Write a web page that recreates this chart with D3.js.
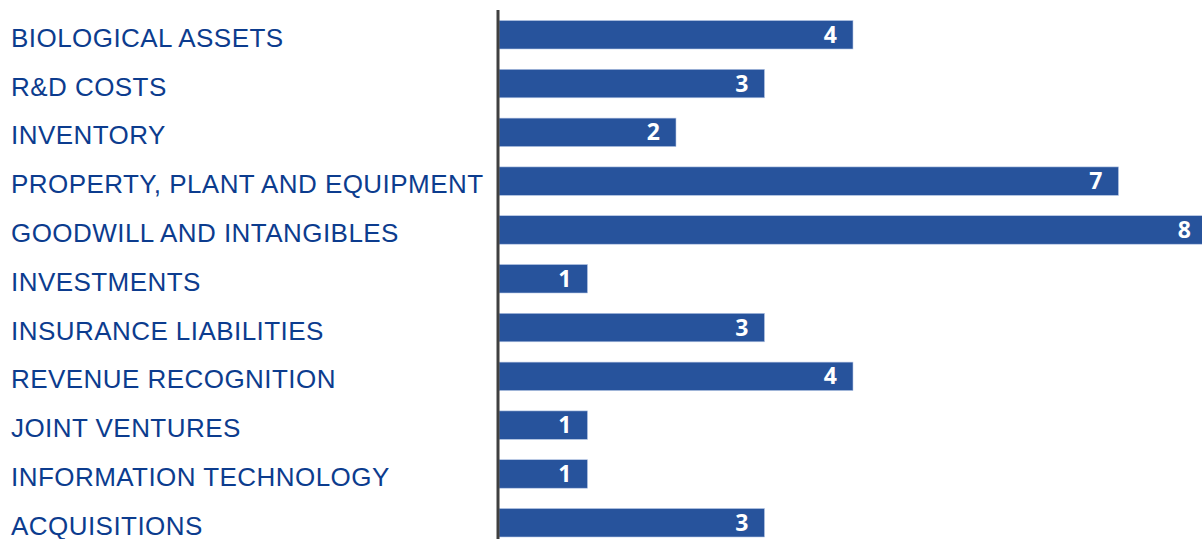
<!DOCTYPE html>
<html lang="en">
<head>
    <meta charset="UTF-8">
    <title>Bar chart</title>
    <script src="https://d3js.org/d3.v7.min.js"></script>
    <style>
        body { margin: 0; background: #fff; overflow: hidden; }
        .cat { font-family: "Liberation Sans", Arial, sans-serif; font-size: 26px; letter-spacing: 0.45px; fill: #0c3c8e; }
        .val { font-family: "Open Sans", "Liberation Sans", sans-serif; font-size: 23px; font-weight: bold; fill: #fff; }
    </style>
</head>
<body>
    <svg id="chart" width="1202" height="539"></svg>
    <script>
        const categories = [
            "BIOLOGICAL ASSETS",
            "R&D COSTS",
            "INVENTORY",
            "PROPERTY, PLANT AND EQUIPMENT",
            "GOODWILL AND INTANGIBLES",
            "INVESTMENTS",
            "INSURANCE LIABILITIES",
            "REVENUE RECOGNITION",
            "JOINT VENTURES",
            "INFORMATION TECHNOLOGY",
            "ACQUISITIONS"
        ];
        const values = [4, 3, 2, 7, 8, 1, 3, 4, 1, 1, 3];

        const svg = d3.select("#chart");
        const x0 = 499;

        const x = d3.scaleLinear().domain([0, 8]).range([x0, x0 + 8 * 88.5]);
        const y = d3.scaleBand()
            .domain(categories)
            .range([10.35, 10.35 + 11 * 48.8])
            .paddingInner(0.416)
            .paddingOuter(0.208);

        // bars
        svg.selectAll("rect.bar")
            .data(values)
            .enter().append("rect")
            .attr("class", "bar")
            .attr("x", x(0))
            .attr("y", (d, i) => y(categories[i]))
            .attr("width", d => x(d) - x(0))
            .attr("height", y.bandwidth())
            .attr("fill", "#27539c")
            .attr("stroke", "#b8c8e6")
            .attr("stroke-width", 0.6);

        // value labels
        svg.selectAll("text.val")
            .data(values)
            .enter().append("text")
            .attr("class", "val")
            .attr("x", d => x(d) - 16)
            .attr("y", (d, i) => y(categories[i]) + y.bandwidth() / 2 + 8)
            .attr("text-anchor", "end")
            .text(d => d);

        // category labels
        svg.selectAll("text.cat")
            .data(categories)
            .enter().append("text")
            .attr("class", "cat")
            .attr("x", 11)
            .attr("y", d => y(d) + y.bandwidth() / 2 + 12)
            .text(d => d);

        // vertical axis line
        svg.append("line")
            .attr("x1", 498).attr("x2", 498)
            .attr("y1", 10).attr("y2", 539)
            .attr("stroke", "#404040")
            .attr("stroke-width", 3);
    </script>
</body>
</html>
